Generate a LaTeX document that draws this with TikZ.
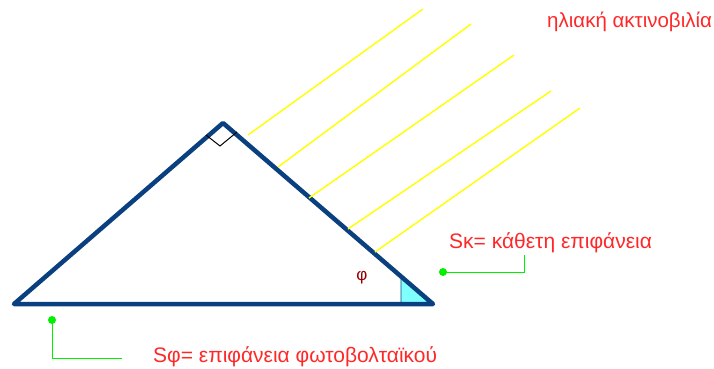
\documentclass[tikz,border=0pt]{standalone}
\usepackage{fontspec}
\setmainfont{Liberation Sans}
\begin{document}
\begin{tikzpicture}[x=1pt,y=-1pt,
  tri/.style={draw=navy,line width=4.5pt,line join=round,line cap=round},
  ray/.style={draw=ybright,line width=1.4pt},
  lead/.style={draw=gbright,line width=1pt},
  dotm/.style={circle,fill=gbright,inner sep=0pt,minimum size=8pt},
  lbl/.style={text=lred,font=\fontsize{21}{24}\selectfont,inner sep=0pt,anchor=base west}]
\definecolor{navy}{RGB}{10,64,128}
\definecolor{ybright}{RGB}{255,255,0}
\definecolor{gbright}{RGB}{0,240,0}
\definecolor{lred}{RGB}{255,40,40}
\definecolor{dred}{RGB}{150,0,0}
\definecolor{lcyan}{RGB}{128,255,255}
\useasboundingbox (0,0) rectangle (714,369);
\coordinate (L) at (14,304);
\coordinate (A) at (223,123);
\coordinate (R) at (433,304);
\coordinate (C1) at (401,276.5);
\coordinate (C2) at (401,304);
% cyan angle
\filldraw[fill=lcyan,draw=navy,line width=0.8pt] (C1) -- (C2) -- (R) -- cycle;
% triangle
\draw[tri] (L) -- (A) -- (R) -- cycle;
% right angle mark
\coordinate (M1) at (206,135);
\coordinate (M2) at (220,146);
\coordinate (M3) at (237,132);
\draw[black,line width=1pt] (M1) -- (M2) -- (M3);
% rays
\coordinate (s1) at (248,135); \coordinate (e1) at (423,9);
\coordinate (s2) at (278,167); \coordinate (e2) at (471,24);
\coordinate (s3) at (309,198); \coordinate (e3) at (514,55);
\coordinate (s4) at (348,229); \coordinate (e4) at (551,91);
\coordinate (s5) at (375,252); \coordinate (e5) at (580,108);
\foreach \i in {1,...,5} \draw[ray] (s\i) -- (e\i);
% labels
\node[lbl,font=\fontsize{20.5}{24}\selectfont] (sun) at (547,28) {ηλιακή ακτινοβιλία};
\node[lbl] (sk) at (449,248) {Sκ= κάθετη επιφάνεια};
\node[lbl] (sf) at (153,362) {Sφ= επιφάνεια φωτοβολταϊκού};
\node[text=dred,font=\fontsize{17}{20}\selectfont,inner sep=0pt] (phi) at (362,278) {φ};
% leaders
\node[dotm] (d1) at (443,272) {};
\node[dotm] (d2) at (52,320) {};
\coordinate (k1) at (524,272);
\coordinate (k2) at (524,255);
\coordinate (f1) at (52,358);
\coordinate (f2) at (122,358);
\draw[lead] (d1.center) -- (k1) -- (k2);
\draw[lead] (d2.center) -- (f1) -- (f2);
\end{tikzpicture}
\end{document}
